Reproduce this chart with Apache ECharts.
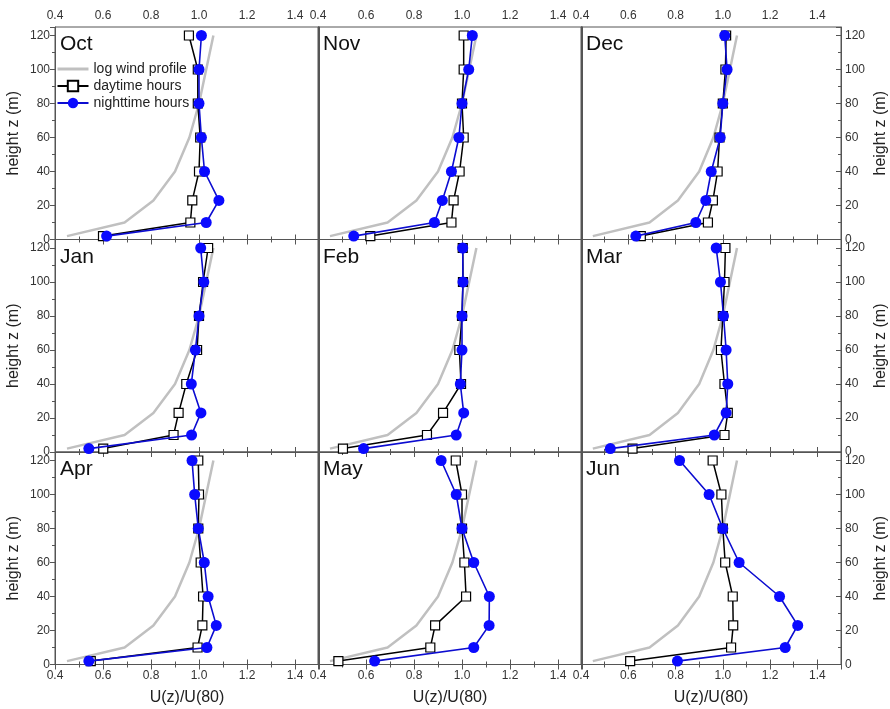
<!DOCTYPE html>
<html>
<head>
<meta charset="utf-8">
<script src="https://cdn.jsdelivr.net/npm/echarts@6/dist/echarts.min.js"></script>
<style>
html,body{margin:0;padding:0;background:#fff;}
#chart{width:890px;height:709px;}
</style>
</head>
<body>
<div id="chart"></div>
<script>
// ---- data ----
var heights = [2, 10, 23, 40, 60, 80, 100, 120];
var months = ['Oct', 'Nov', 'Dec', 'Jan', 'Feb', 'Mar', 'Apr', 'May', 'Jun'];
var logProfile = [0.45, 0.69, 0.81, 0.90, 0.96, 1.00, 1.03, 1.06];

var dayOct = [0.60, 0.964, 0.972, 1.00, 1.005, 0.995, 0.995, 0.958];
var nightOct = [0.615, 1.03, 1.083, 1.023, 1.01, 1.00, 1.00, 1.01];
var dayNov = [0.618, 0.956, 0.965, 0.99, 1.007, 1.00, 1.007, 1.007];
var nightNov = [0.549, 0.885, 0.918, 0.956, 0.987, 1.00, 1.028, 1.043];
var dayDec = [0.653, 0.937, 0.958, 0.978, 0.986, 1.00, 1.011, 1.014];
var nightDec = [0.632, 0.886, 0.928, 0.951, 0.989, 1.00, 1.018, 1.008];
var dayJan = [0.601, 0.894, 0.915, 0.947, 0.992, 1.00, 1.017, 1.038];
var nightJan = [0.541, 0.969, 1.008, 0.968, 0.985, 1.00, 1.02, 1.007];
var dayFeb = [0.504, 0.854, 0.921, 0.996, 0.989, 1.00, 1.004, 1.003];
var nightFeb = [0.59, 0.976, 1.007, 0.993, 1.00, 1.00, 1.004, 1.003];
var dayMar = [0.618, 1.007, 1.021, 1.007, 0.992, 1.00, 1.007, 1.011];
var nightMar = [0.524, 0.964, 1.014, 1.021, 1.014, 1.003, 0.99, 0.972];
var dayApr = [0.549, 0.994, 1.014, 1.017, 1.007, 0.997, 1.00, 0.997];
var nightApr = [0.541, 1.033, 1.072, 1.038, 1.022, 0.997, 0.982, 0.971];
var dayMay = [0.485, 0.868, 0.888, 1.017, 1.01, 1.00, 1.00, 0.974];
var nightMay = [0.636, 1.049, 1.113, 1.114, 1.049, 1.00, 0.976, 0.913];
var dayJun = [0.608, 1.035, 1.044, 1.042, 1.01, 1.00, 0.994, 0.957];
var nightJun = [0.808, 1.264, 1.317, 1.24, 1.069, 1.00, 0.942, 0.817];

var dayData = [dayOct, dayNov, dayDec, dayJan, dayFeb, dayMar, dayApr, dayMay, dayJun];
var nightData = [nightOct, nightNov, nightDec, nightJan, nightFeb, nightMar, nightApr, nightMay, nightJun];

var xTicks = [0.4, 0.6, 0.8, 1.0, 1.2, 1.4];
var yTicks = [0, 20, 40, 60, 80, 100, 120];

// ---- layout ----
var colLeft = [55, 318, 581];
var colWidth = 264;
var rowTop = [27, 239.5, 452];
var rowHeight = 212.5;
var FONT = 'Liberation Sans, Arial, sans-serif';
var AXIS_COLOR = '#555';
var LABEL_COLOR = '#333';

function pairs(xs) {
  return xs.map(function (v, i) { return [v, heights[i]]; });
}

var grids = [], xAxes = [], yAxes = [], series = [], titles = [];

for (var p = 0; p < 9; p++) {
  var r = Math.floor(p / 3), c = p % 3;
  grids.push({
    left: colLeft[c], top: rowTop[r], width: colWidth, height: rowHeight,
    show: true, borderColor: AXIS_COLOR, borderWidth: 1, backgroundColor: 'transparent',
    containLabel: false
  });
  var xBase = {
    type: 'value', gridIndex: p, min: 0.4, max: 1.5, interval: 0.2,
    axisLine: { show: true, lineStyle: { color: AXIS_COLOR, width: 1 } },
    axisTick: { show: true, inside: true, length: 5, lineStyle: { color: AXIS_COLOR } },
    minorTick: { show: true, splitNumber: 2, length: 3, lineStyle: { color: AXIS_COLOR } },
    splitLine: { show: false },
    axisLabel: {
      show: false, fontFamily: FONT, fontSize: 12, color: LABEL_COLOR, margin: 5,
      showMaxLabel: false,
      formatter: function (v) { return xTicks.indexOf(+v.toFixed(1)) >= 0 ? v.toFixed(1) : ''; }
    }
  };
  var xb = JSON.parse(JSON.stringify(xBase));
  xb.axisLabel.formatter = xBase.axisLabel.formatter;
  xb.position = 'bottom';
  if (r === 2) {
    xb.axisLabel.show = true;
    xb.name = 'U(z)/U(80)';
    xb.nameLocation = 'middle';
    xb.nameGap = 25;
    xb.nameTextStyle = { fontFamily: FONT, fontSize: 16, color: '#222' };
  }
  xAxes.push(xb);
  var xt = JSON.parse(JSON.stringify(xBase));
  xt.axisLabel.formatter = xBase.axisLabel.formatter;
  xt.position = 'top';
  if (r === 0) xt.axisLabel.show = true;
  xAxes.push(xt);

  var yBase = {
    type: 'value', gridIndex: p, min: 0, max: 125, interval: 20,
    axisLine: { show: true, lineStyle: { color: AXIS_COLOR, width: 1 } },
    axisTick: { show: false, inside: false, length: 5, lineStyle: { color: AXIS_COLOR } },
    minorTick: { show: false, splitNumber: 2, length: 3, lineStyle: { color: AXIS_COLOR } },
    splitLine: { show: false },
    axisLabel: {
      show: false, fontFamily: FONT, fontSize: 12, color: LABEL_COLOR, margin: 5,
      showMaxLabel: false,
      formatter: function (v) { return yTicks.indexOf(v) >= 0 ? String(v) : ''; }
    },
    nameTextStyle: { fontFamily: FONT, fontSize: 16, color: '#222' }
  };
  var yl = JSON.parse(JSON.stringify(yBase));
  yl.axisLabel.formatter = yBase.axisLabel.formatter;
  yl.position = 'left';
  yl.name = 'height z (m)';
  yl.nameLocation = 'middle';
  yl.nameRotate = 90;
  yl.nameGap = 33;
  if (c !== 0) { yl.name = ''; }
  if (c === 0) {
    yl.axisTick.show = true;
    yl.minorTick.show = true;
    yl.axisLabel.show = true;
  }
  yAxes.push(yl);
  var yr = JSON.parse(JSON.stringify(yBase));
  yr.axisLabel.formatter = yBase.axisLabel.formatter;
  yr.position = 'right';
  if (c === 2) {
    yr.axisTick.show = true;
    yr.axisTick.inside = true;
    yr.minorTick.show = true;
    yr.axisLabel.show = true;
    yr.axisLabel.margin = 4;
    yr.name = 'height z (m)';
    yr.nameLocation = 'middle';
    yr.nameRotate = 90;
    yr.nameGap = 32;
  }
  yAxes.push(yr);

  series.push({
    name: 'log wind profile', type: 'line', xAxisIndex: 2 * p, yAxisIndex: 2 * p,
    data: pairs(logProfile), showSymbol: false, symbol: 'none',
    lineStyle: { color: '#c0c0c0', width: 2.5 }, itemStyle: { color: '#c0c0c0' },
    z: 2, animation: false, silent: true
  });
  series.push({
    name: 'daytime hours', type: 'line', xAxisIndex: 2 * p, yAxisIndex: 2 * p,
    data: pairs(dayData[p]), symbol: 'rect', symbolSize: 9,
    lineStyle: { color: '#000', width: 1.5 },
    itemStyle: { color: '#fff', borderColor: '#000', borderWidth: 1.2 },
    z: 3, animation: false, silent: true
  });
  series.push({
    name: 'nighttime hours', type: 'line', xAxisIndex: 2 * p, yAxisIndex: 2 * p,
    data: pairs(nightData[p]), symbol: 'circle', symbolSize: 11,
    lineStyle: { color: '#0c0cd0', width: 1.6 },
    itemStyle: { color: '#0a0aff', borderWidth: 0 },
    z: 4, animation: false, silent: true
  });

  titles.push({
    text: months[p], left: colLeft[c] + 5, top: rowTop[r] + 7, padding: 0,
    textStyle: { fontFamily: FONT, fontSize: 21, fontWeight: 'normal', color: '#111' }
  });
}

var option = {
  backgroundColor: '#fff',
  animation: false,
  title: titles,
  legend: {
    data: [
      { name: 'log wind profile', itemStyle: { opacity: 0 }, lineStyle: { width: 3, color: '#c0c0c0' } },
      { name: 'daytime hours', lineStyle: { width: 2 } },
      { name: 'nighttime hours', lineStyle: { width: 2 } }
    ],
    orient: 'vertical', left: 56, top: 62, padding: 0,
    itemWidth: 31, itemHeight: 13, itemGap: 3,
    textStyle: { fontFamily: FONT, fontSize: 14, color: '#222' },
    selectedMode: false
  },
  grid: grids,
  xAxis: xAxes,
  yAxis: yAxes,
  series: series
};

var chart = echarts.init(document.getElementById('chart'), null, { renderer: 'canvas' });
chart.setOption(option);
</script>
</body>
</html>
